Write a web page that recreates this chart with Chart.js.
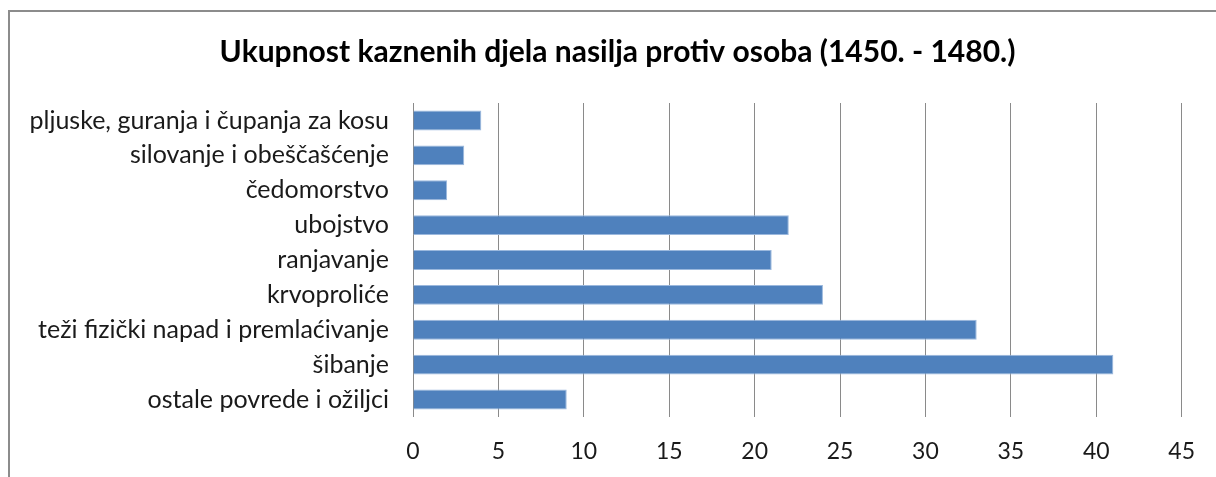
<!DOCTYPE html>
<html>
<head>
<meta charset="utf-8">
<script src="https://cdn.jsdelivr.net/npm/chart.js@4"></script>
<style>
  html, body { margin: 0; padding: 0; background: #fff; overflow: hidden; }
  #wrap { position: relative; width: 1216px; height: 477px; }
  #frame { position: absolute; left: 8px; top: 10px; width: 1240px; height: 520px; border: 2px solid #8c8c8c; box-sizing: border-box; }
  canvas { position: absolute; left: 0; top: 0; }
</style>
</head>
<body>
<div id="wrap">
  <div id="frame"></div>
  <canvas id="myChart" width="1216" height="477"></canvas>
</div>
<script>
// Kategorije i vrijednosti (odozgo prema dolje)
const kategorije = [
  'pljuske, guranja i čupanja za kosu',
  'silovanje i obeščašćenje',
  'čedomorstvo',
  'ubojstvo',
  'ranjavanje',
  'krvoproliće',
  'teži fizički napad i premlaćivanje',
  'šibanje',
  'ostale povrede i ožiljci'
];
const brojDjela = [4, 3, 2, 22, 21, 24, 33, 41, 9];
const osMin = 0;
const osMax = 45;
const osKorak = 5;

const font = "Lato, 'Open Sans', sans-serif";

const podaci = {
  labels: kategorije,
  datasets: [{
    data: brojDjela,
    backgroundColor: '#4f81bd',
    borderColor: '#9bb8dd',
    borderWidth: 1,
    barPercentage: 0.57,
    categoryPercentage: 1
  }]
};

// naslov malo udesno, kao u originalu
const pomakNaslova = {
  id: 'pomakNaslova',
  afterLayout(chart) {
    if (chart.titleBlock) chart.titleBlock.left = 52;
  }
};

const config = {
  type: 'bar',
  data: podaci,
  plugins: [pomakNaslova],
  options: {
    indexAxis: 'y',
    responsive: false,
    animation: false,
    layout: { padding: { left: 0, right: 33, top: 0, bottom: 0 } },
    plugins: {
      legend: { display: false },
      tooltip: { enabled: false },
      title: {
        display: true,
        text: 'Ukupnost kaznenih djela nasilja protiv osoba (1450. - 1480.)',
        color: '#000',
        font: { family: font, size: 30, weight: 'bold' },
        padding: { top: 34, bottom: 33 }
      }
    },
    scales: {
      x: {
        min: osMin,
        max: osMax,
        ticks: {
          stepSize: osKorak,
          color: '#1a1a1a',
          font: { family: font, size: 23 },
          padding: 21
        },
        grid: { color: '#8a8a8a', lineWidth: 1, drawTicks: false },
        border: { display: false },
        afterFit: s => { s.height = 60; }
      },
      y: {
        ticks: {
          color: '#1a1a1a',
          font: { family: font, size: 25 },
          padding: 24
        },
        grid: { display: false, drawTicks: false },
        border: { display: false },
        afterFit: s => { s.width = 413; }
      }
    }
  }
};

var myChart = new Chart(document.getElementById('myChart'), config);
</script>
</body>
</html>
